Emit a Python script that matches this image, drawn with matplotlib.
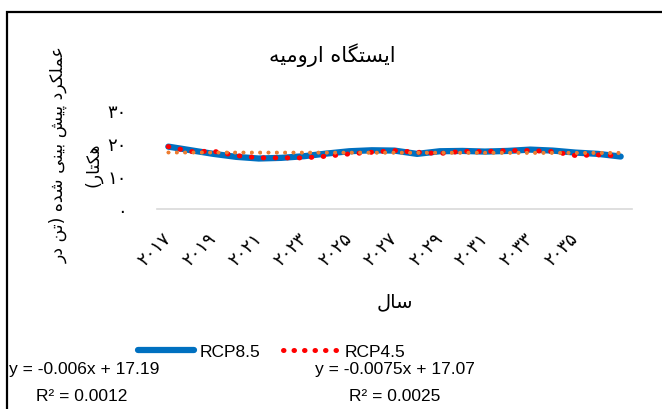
import matplotlib
matplotlib.use("Agg")
import matplotlib.pyplot as plt
from matplotlib.patches import Rectangle
import numpy as np

# data
years = list(range(2017, 2038))
rcp85 = [18.9, 17.8, 16.7, 15.8, 15.3, 15.5, 16.0, 16.8, 17.5, 17.8, 17.7,
         16.7, 17.5, 17.6, 17.4, 17.6, 18.0, 17.7, 17.1, 16.7, 15.9]
rcp45 = [18.9, 17.4, 17.5, 16.2, 15.5, 15.5, 15.5, 16.0, 16.7, 17.2, 17.7,
         17.2, 16.8, 17.5, 17.4, 17.7, 17.7, 17.4, 16.2, 16.4, 16.1]
tick_years = list(range(2017, 2036, 2))
yticks = [0, 10, 20, 30]
trend85 = (-0.006, 17.19, 0.0012)
trend45 = (-0.0075, 17.07, 0.0025)

# --- minimal persian shaping (matplotlib does no arabic shaping / rtl) ---
FORMS = {
    'ا': ('\uFE8D', '\uFE8E', None, None),
    'آ': ('\uFE81', '\uFE82', None, None),
    'د': ('\uFEA9', '\uFEAA', None, None),
    'ر': ('\uFEAD', '\uFEAE', None, None),
    'و': ('\uFEED', '\uFEEE', None, None),
    'ب': ('\uFE8F', '\uFE90', '\uFE91', '\uFE92'),
    'پ': ('\uFB56', '\uFB57', '\uFB58', '\uFB59'),
    'ت': ('\uFE95', '\uFE96', '\uFE97', '\uFE98'),
    'س': ('\uFEB1', '\uFEB2', '\uFEB3', '\uFEB4'),
    'ش': ('\uFEB5', '\uFEB6', '\uFEB7', '\uFEB8'),
    'ع': ('\uFEC9', '\uFECA', '\uFECB', '\uFECC'),
    'ک': ('\uFB8E', '\uFB8F', '\uFB90', '\uFB91'),
    'گ': ('\uFB92', '\uFB93', '\uFB94', '\uFB95'),
    'ل': ('\uFEDD', '\uFEDE', '\uFEDF', '\uFEE0'),
    'م': ('\uFEE1', '\uFEE2', '\uFEE3', '\uFEE4'),
    'ن': ('\uFEE5', '\uFEE6', '\uFEE7', '\uFEE8'),
    'ه': ('\uFEE9', '\uFEEA', '\uFEEB', '\uFEEC'),
    'ی': ('\uFBFC', '\uFBFD', '\uFBFE', '\uFBFF'),
}


def fa(text):
    out = []
    for i, c in enumerate(text):
        if c not in FORMS:
            out.append(c)
            continue
        prev = text[i - 1] if i > 0 else None
        nxt = text[i + 1] if i + 1 < len(text) else None
        jp = prev in FORMS and FORMS[prev][2] is not None
        jn = nxt in FORMS and FORMS[c][2] is not None
        iso, fin, ini, med = FORMS[c]
        out.append(med if jp and jn else fin if jp else ini if jn else iso)
    s = ''.join(out)[::-1]
    return s.translate(str.maketrans('()', ')('))


def fa_num(n):
    return str(n).translate(str.maketrans('0123456789', '۰۱۲۳۴۵۶۷۸۹'))


plt.rcParams['font.family'] = ['DejaVu Sans']
W, H = 662, 410
fig = plt.figure(figsize=(W / 100, H / 100), dpi=100)
ax = fig.add_axes([157 / W, 1 - 210 / H, 475 / W, 99 / H])

x = np.array(years)
ax.plot(years, rcp85, color='#0070C0', lw=4.5, solid_capstyle='round', zorder=2)
ax.plot(years, rcp45, color='#FF0000', lw=3.6, linestyle=(0, (0.1, 2.3)),
        dash_capstyle='round', zorder=3)
for m, b, _ in (trend85, trend45):
    t = x - years[0] + 1
    ax.plot(years, m * t + b, color='#ED7D31', lw=2.5, linestyle=(0, (0.1, 2.3)),
            dash_capstyle='round', zorder=4)

ax.set_xlim(years[0] - 0.5, years[-1] + 0.5)
ax.set_ylim(0, 30)
ax.set_yticks(yticks)
ax.set_yticklabels([fa_num(v) for v in yticks], fontsize=13)
ax.set_xticks(tick_years)
ax.set_xticklabels([fa_num(v) for v in tick_years], fontsize=13, rotation=45,
                   ha='right', va='center', rotation_mode='anchor')
ax.tick_params(axis='both', length=0)
ax.tick_params(axis='y', pad=22)
ax.tick_params(axis='x', pad=19)
for s in ('top', 'right', 'left'):
    ax.spines[s].set_visible(False)
ax.spines['bottom'].set_color('#D9D9D9')
ax.spines['bottom'].set_linewidth(1.2)

fig.text(332 / W, 1 - 55 / H, fa('ایستگاه ارومیه'), fontsize=15, ha='center', va='center')
fig.text(395 / W, 1 - 302 / H, fa('سال'), fontsize=14, ha='center', va='center')
fig.text(59 / W, 1 - 155 / H, fa('عملکرد پیش بینی شده (تن در'), fontsize=12.5,
         rotation=90, ha='center', va='center')
fig.text(93 / W, 1 - 165 / H, fa('هکتار)'), fontsize=12.5,
         rotation=90, ha='center', va='center')

h1, = ax.plot([], [], color='#0070C0', lw=4.5, solid_capstyle='round')
h2, = ax.plot([], [], color='#FF0000', lw=3.6, linestyle=(0, (0.1, 2.0)),
              dash_capstyle='round')
fig.legend([h1, h2], ['RCP8.5', 'RCP4.5'], loc='center', ncol=2, frameon=False,
           bbox_to_anchor=(272 / W, 1 - 352 / H), handlelength=3.2,
           handletextpad=0.35, columnspacing=1.3,
           prop={'family': 'Liberation Sans', 'size': 12.5})

eq = {'family': 'Liberation Sans', 'size': 12.5}
fig.text(84 / W, 1 - 370 / H, 'y = %.3fx + %.2f' % trend85[:2], ha='center', va='center', **eq)
fig.text(82 / W, 1 - 397 / H, 'R² = %.4f' % trend85[2], ha='center', va='center', **eq)
fig.text(395 / W, 1 - 370 / H, 'y = %.4fx + %.2f' % trend45[:2], ha='center', va='center', **eq)
fig.text(395 / W, 1 - 397 / H, 'R² = %.4f' % trend45[2], ha='center', va='center', **eq)

fig.patches.append(Rectangle((6.5 / W, -0.1), 1.2, 1 - 12.5 / H + 0.1, transform=fig.transFigure,
                             fill=False, edgecolor='black', lw=1.6))

plt.savefig("out.png", dpi=100)
